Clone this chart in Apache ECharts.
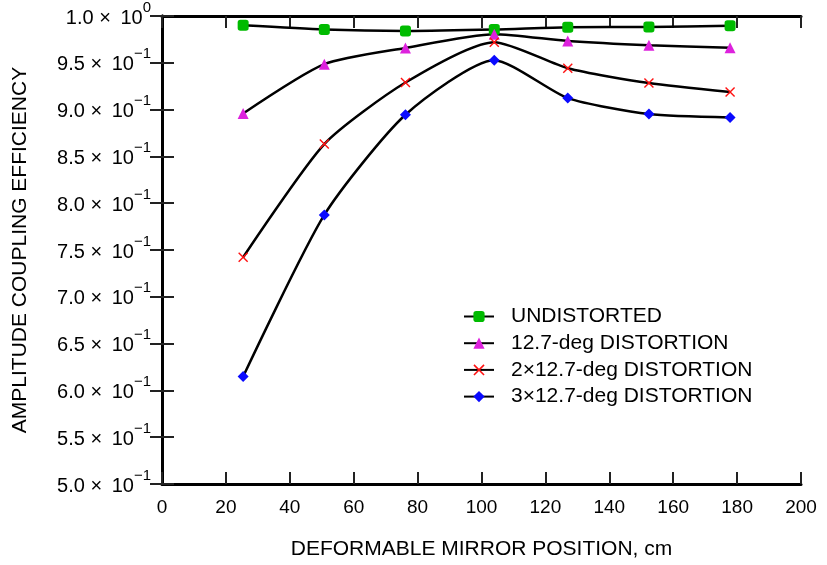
<!DOCTYPE html>
<html>
<head>
<meta charset="utf-8">
<script src="https://cdn.jsdelivr.net/npm/echarts@6/dist/echarts.min.js"></script>
<style>
  html, body { margin: 0; padding: 0; background: #fff; }
  #chart { width: 827px; height: 565px; }
</style>
</head>
<body>
<div id="chart"></div>
<script>
// mirror positions (cm) where the efficiency was computed
const positions = [25.4, 50.8, 76.2, 104, 127, 152.4, 177.8];

// amplitude coupling efficiency for each case
const undistorted = [0.990, 0.9855, 0.984, 0.9855, 0.988, 0.9883, 0.9897];
const distort1 = [0.8958, 0.9485, 0.9659, 0.9805, 0.9733, 0.9688, 0.9662];
const distort2 = [0.7423, 0.8632, 0.9289, 0.972, 0.9442, 0.9283, 0.9187];
const distort3 = [0.6148, 0.7875, 0.8945, 0.9528, 0.9123, 0.8952, 0.8916];

const seriesNames = ['UNDISTORTED', '12.7-deg DISTORTION', '2\u00d712.7-deg DISTORTION', '3\u00d712.7-deg DISTORTION'];

// y tick labels: mantissa and power of ten
const yMantissa = ['5.0', '5.5', '6.0', '6.5', '7.0', '7.5', '8.0', '8.5', '9.0', '9.5', '1.0'];
const yExponent = ['\u22121', '\u22121', '\u22121', '\u22121', '\u22121', '\u22121', '\u22121', '\u22121', '\u22121', '\u22121', '0'];

const crossPath = 'path://M1,0 L5,4 L9,0 L10,1 L6,5 L10,9 L9,10 L5,6 L1,10 L0,9 L4,5 L0,1 Z';

function pairs(ys) {
    return positions.map((x, i) => [x, ys[i]]);
}

function makeSeries(name, ys, symbol, size, color) {
    return {
        name: name,
        type: 'line',
        data: pairs(ys),
        smooth: 0.22,
        symbol: symbol,
        symbolSize: size,
        showAllSymbol: true,
        lineStyle: { color: '#000', width: 2.5 },
        itemStyle: { color: color },
        emphasis: { disabled: true },
        z: 3
    };
}

const chart = echarts.init(document.getElementById('chart'));
const font = 'Liberation Sans, Arial, Helvetica, sans-serif';

chart.setOption({
    animation: false,
    backgroundColor: '#fff',
    textStyle: { fontFamily: font, color: '#000' },
    grid: { left: 162, right: 26, top: 15, bottom: 81 },
    legend: {
        orient: 'vertical',
        left: 463,
        top: 306,
        padding: 0,
        itemGap: 5.7,
        itemWidth: 30,
        itemHeight: 14,
        data: seriesNames,
        textStyle: { fontSize: 21, color: '#000', fontFamily: font, padding: [0, 0, 0, 12] }
    },
    xAxis: [{
        type: 'value',
        min: 0, max: 200, interval: 20,
        name: 'DEFORMABLE MIRROR POSITION, cm',
        nameLocation: 'middle',
        nameGap: 55,
        nameTextStyle: { fontSize: 21, color: '#000' },
        axisLine: { lineStyle: { color: '#000', width: 3 } },
        axisTick: { inside: true, length: 12, lineStyle: { color: '#222', width: 2 } },
        axisLabel: { fontSize: 19, color: '#000', margin: 14 },
        splitLine: { show: false }
    }, {
        type: 'value',
        position: 'top',
        min: 0, max: 200, interval: 20,
        axisLine: { lineStyle: { color: '#000', width: 3 } },
        axisTick: { inside: true, length: 12, lineStyle: { color: '#222', width: 2 } },
        axisLabel: { show: false },
        splitLine: { show: false }
    }],
    yAxis: [{
        type: 'value',
        min: 0.5, max: 1.0, interval: 0.05,
        name: 'AMPLITUDE COUPLING EFFICIENCY',
        nameLocation: 'middle',
        nameRotate: 90,
        nameGap: 131,
        nameTextStyle: { fontSize: 21, color: '#000' },
        axisLine: { lineStyle: { color: '#000', width: 3 } },
        axisTick: { inside: true, length: 12, lineStyle: { color: '#222', width: 2 } },
        splitLine: { show: false },
        axisLabel: {
            margin: 11,
            padding: [0, 0, 4, 0],
            formatter: function (v) {
                const i = Math.round((v - 0.5) / 0.05);
                return '{m|' + yMantissa[i] + '}{x| \u00d7 }{m|\u200910}{s|' + yExponent[i] + '}';
            },
            rich: {
                m: { fontSize: 20, lineHeight: 28, verticalAlign: 'bottom', color: '#000', fontFamily: font },
                x: { fontSize: 20, lineHeight: 28, verticalAlign: 'bottom', color: '#000', fontFamily: font },
                s: { fontSize: 15, lineHeight: 14, verticalAlign: 'top', color: '#000', fontFamily: font }
            }
        }
    }, {
        type: 'value',
        position: 'right',
        min: 0.5, max: 1.0, interval: 0.05,
        axisLine: { lineStyle: { color: '#000', width: 3 } },
        axisTick: { inside: true, length: 12, lineStyle: { color: '#222', width: 2 } },
        axisLabel: { show: false },
        splitLine: { show: false }
    }],
    series: [
        makeSeries(seriesNames[0], undistorted, 'roundRect', 11, '#00bb00'),
        makeSeries(seriesNames[1], distort1, 'triangle', 11, '#dd22dd'),
        makeSeries(seriesNames[2], distort2, crossPath, 10, '#ff1111'),
        makeSeries(seriesNames[3], distort3, 'diamond', 11, '#0a0aff')
    ]
});
</script>
</body>
</html>
